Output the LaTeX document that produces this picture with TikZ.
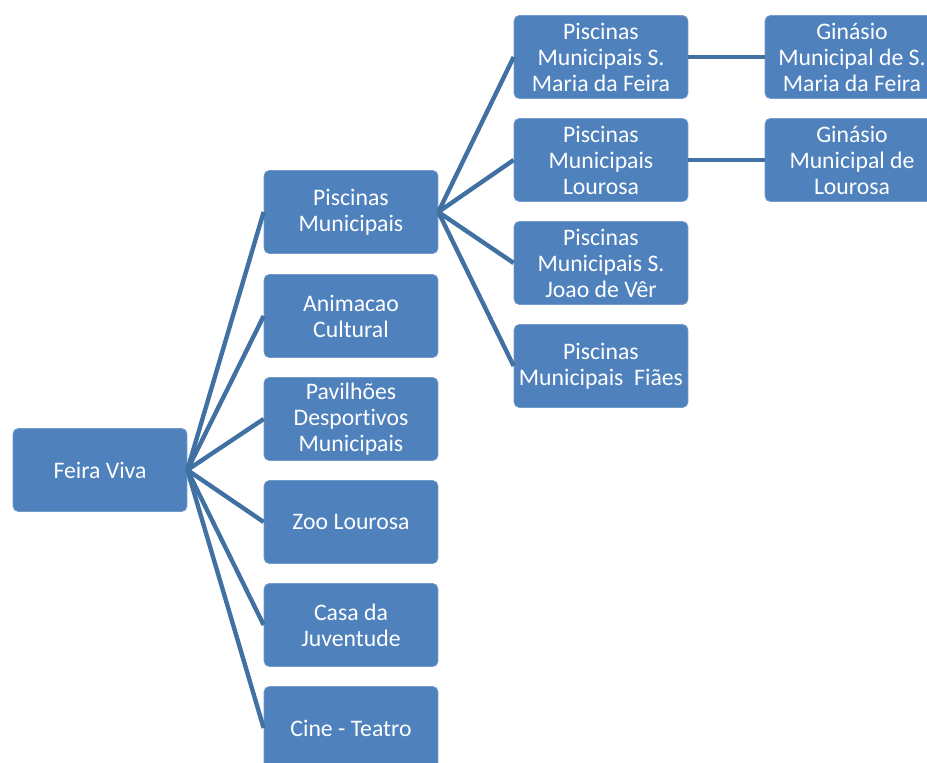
\documentclass[tikz,border=0pt]{standalone}
\usepackage{fontspec}
\setmainfont{Carlito}[Ligatures=NoCommon]
\usetikzlibrary{shapes}
\definecolor{boxblue}{RGB}{79,129,189}
\definecolor{lineblue}{RGB}{65,113,162}

\begin{document}
\begin{tikzpicture}[x=0.02cm,y=-0.02cm,
                    box/.style={rectangle,rounded corners=3pt,fill=boxblue,draw=boxblue!80!white,
                                text=white,align=center,minimum width=3.48cm,minimum height=1.66cm,
                                inner sep=1pt,font=\fontsize{13.5}{14.8}\selectfont},
                    link/.style={draw=lineblue,line width=2.5pt}]
  \useasboundingbox (0,0) rectangle (927,763);
  % root
  \node[box]  (fv) at (100,470) {Feira Viva};
  % first level
  \node[box]  (pm) at (351,212) {Piscinas\\Municipais};
  \node[box]  (ac) at (351,316) {Animacao\\Cultural};
  \node[box]  (pd) at (351,419) {Pavilhões\\Desportivos\\Municipais};
  \node[box]  (zl) at (351,522) {Zoo Lourosa};
  \node[box]  (cj) at (351,625) {Casa da\\Juventude};
  \node[box]  (ct) at (351,728) {Cine - Teatro};
  % second level
  \node[box]  (pa) at (601,57)  {Piscinas\\Municipais S.\\Maria da Feira};
  \node[box]  (pb) at (601,160) {Piscinas\\Municipais\\Lourosa};
  \node[box]  (pc) at (601,263) {Piscinas\\Municipais S.\\Joao de Vêr};
  \node[box]  (pf) at (601,366) {Piscinas\\Municipais~~Fiães};
  % third level
  \node[box]  (ga) at (852,57)  {Ginásio\\Municipal de S.\\Maria da Feira};
  \node[box]  (gb) at (852,160) {Ginásio\\Municipal de\\Lourosa};
  \draw[link] (fv.east) edge (pm.west);
  \draw[link] (fv.east) edge (ac.west);
  \draw[link] (fv.east) edge (pd.west);
  \draw[link] (fv.east) edge (zl.west);
  \draw[link] (fv.east) edge (cj.west);
  \draw[link] (fv.east) edge (ct.west);
  \draw[link] (pm.east) edge (pa.west);
  \draw[link] (pm.east) edge (pb.west);
  \draw[link] (pm.east) edge (pc.west);
  \draw[link] (pm.east) edge (pf.west);
  \draw[link] (pa.east) edge (ga.west);
  \draw[link] (pb.east) edge (gb.west);
\end{tikzpicture}
\end{document}
